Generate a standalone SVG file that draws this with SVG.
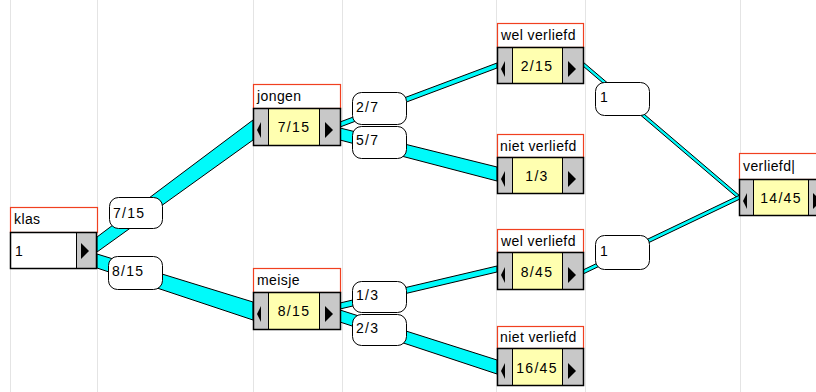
<svg xmlns="http://www.w3.org/2000/svg" width="816" height="392" viewBox="0 0 816 392">
<style>
.grid{stroke:#E4E4E4;stroke-width:1}
.band{fill:#00FAFA;stroke:#000;stroke-width:1;stroke-linejoin:round}
.lbl{fill:#fff;stroke:#000;stroke-width:1}
.ttl{fill:#fff;stroke:#F04020;stroke-width:1.2}
.btn{fill:#C8C8C8;stroke:#000;stroke-width:1}
.val{fill:#FFFFB0;stroke:#000;stroke-width:1}
.wv{fill:#fff;stroke:#000;stroke-width:1}
.row{fill:none;stroke:#000;stroke-width:1.5}
.t{font-family:"Liberation Sans",Arial,sans-serif;font-size:14px;letter-spacing:0.4px;fill:#000}
.l{font-family:"Liberation Sans",Arial,sans-serif;font-size:14px;letter-spacing:1.3px;fill:#000}
.v{font-family:"Liberation Sans",Arial,sans-serif;font-size:14px;letter-spacing:1.3px;fill:#000;text-anchor:middle}
.arr{fill:#000}
</style>
<rect width="816" height="392" fill="#fff"/>
<g id="grid">
<line class="grid" x1="10.5" y1="0" x2="10.5" y2="392"/>
<line class="grid" x1="97.5" y1="0" x2="97.5" y2="392"/>
<line class="grid" x1="253.5" y1="0" x2="253.5" y2="392"/>
<line class="grid" x1="342.5" y1="0" x2="342.5" y2="392"/>
<line class="grid" x1="496.5" y1="0" x2="496.5" y2="392"/>
<line class="grid" x1="585.5" y1="0" x2="585.5" y2="392"/>
<line class="grid" x1="740.5" y1="0" x2="740.5" y2="392"/>
</g>
<g id="connectors">
<polygon class="band" points="97,237 253,120 253,140 97,252"/>
<polygon class="band" points="97,254 253,302 253,320 97,268"/>
<polygon class="band" points="340,122 497,63 497,68 340,127"/>
<polygon class="band" points="340,128 497,167 497,181 340,140"/>
<polygon class="band" points="340,303 497,266 497,272 340,309"/>
<polygon class="band" points="340,310 497,360 497,374 340,322"/>
<polygon class="band" points="583,62 740,196 740,200 583,66"/>
<polygon class="band" points="583,270 740,195 740,199 583,274"/>
<g id="lbl-7-15"><rect class="lbl" x="109.5" y="197.5" width="53" height="31" rx="9"/><text class="l" x="113" y="218">7/15</text></g>
<g id="lbl-8-15"><rect class="lbl" x="108.5" y="256.5" width="54" height="33" rx="9"/><text class="l" x="112" y="276">8/15</text></g>
<g id="lbl-2-7"><rect class="lbl" x="352.5" y="92.5" width="54" height="32" rx="9"/><text class="l" x="356" y="112">2/7</text></g>
<g id="lbl-5-7"><rect class="lbl" x="352.5" y="126.5" width="54" height="32" rx="9"/><text class="l" x="356" y="145">5/7</text></g>
<g id="lbl-1-3"><rect class="lbl" x="352.5" y="281.5" width="54" height="31" rx="9"/><text class="l" x="356" y="300">1/3</text></g>
<g id="lbl-2-3"><rect class="lbl" x="352.5" y="314.5" width="54" height="31" rx="9"/><text class="l" x="356" y="333">2/3</text></g>
<g id="lbl-1a"><rect class="lbl" x="595.5" y="82.5" width="54" height="33" rx="9"/><text class="l" x="600" y="102">1</text></g>
<g id="lbl-1b"><rect class="lbl" x="595.5" y="235.5" width="54" height="34" rx="9"/><text class="l" x="600" y="256">1</text></g>
</g>
<g id="klas">
<rect class="ttl" x="10.5" y="207.5" width="87" height="25"/>
<text class="t" x="14" y="224">klas</text>
<rect class="wv" x="10.5" y="232.5" width="66" height="36"/>
<rect class="btn" x="76.5" y="232.5" width="20" height="36"/>
<polygon class="arr" points="81,243 81,259 89,251"/>
<rect class="row" x="10.5" y="232.5" width="86" height="36"/>
<text class="l" x="15" y="256">1</text>
</g>
<g id="jongen">
<rect class="ttl" x="253.5" y="84.5" width="87" height="24"/>
<text class="t" x="257" y="101">jongen</text>
<rect class="btn" x="253.5" y="108.5" width="15" height="37"/>
<rect class="val" x="268.5" y="108.5" width="51" height="37"/>
<rect class="btn" x="319.5" y="108.5" width="21" height="37"/>
<polygon class="arr" points="257,130 261,122 261,138"/>
<polygon class="arr" points="325,122 325,138 333,130"/>
<rect class="row" x="253.5" y="108.5" width="87" height="37"/>
<text class="v" x="294" y="132">7/15</text>
</g>
<g id="meisje">
<rect class="ttl" x="253.5" y="268.5" width="87" height="24"/>
<text class="t" x="257" y="285">meisje</text>
<rect class="btn" x="253.5" y="292.5" width="15" height="37"/>
<rect class="val" x="268.5" y="292.5" width="51" height="37"/>
<rect class="btn" x="319.5" y="292.5" width="21" height="37"/>
<polygon class="arr" points="257,314 261,306 261,322"/>
<polygon class="arr" points="325,306 325,322 333,314"/>
<rect class="row" x="253.5" y="292.5" width="87" height="37"/>
<text class="v" x="294" y="316">8/15</text>
</g>
<g id="wel-verliefd-1">
<rect class="ttl" x="497.5" y="23.5" width="86" height="24"/>
<text class="t" x="501" y="40">wel verliefd</text>
<rect class="btn" x="497.5" y="47.5" width="15" height="36"/>
<rect class="val" x="512.5" y="47.5" width="50" height="36"/>
<rect class="btn" x="562.5" y="47.5" width="21" height="36"/>
<polygon class="arr" points="501,69 505,61 505,77"/>
<polygon class="arr" points="568,61 568,77 576,69"/>
<rect class="row" x="497.5" y="47.5" width="86" height="36"/>
<text class="v" x="537" y="71">2/15</text>
</g>
<g id="niet-verliefd-1">
<rect class="ttl" x="497.5" y="134.5" width="86" height="23"/>
<text class="t" x="500" y="151">niet verliefd</text>
<rect class="btn" x="497.5" y="157.5" width="15" height="36"/>
<rect class="val" x="512.5" y="157.5" width="50" height="36"/>
<rect class="btn" x="562.5" y="157.5" width="21" height="36"/>
<polygon class="arr" points="501,179 505,171 505,187"/>
<polygon class="arr" points="568,171 568,187 576,179"/>
<rect class="row" x="497.5" y="157.5" width="86" height="36"/>
<text class="v" x="537" y="181">1/3</text>
</g>
<g id="wel-verliefd-2">
<rect class="ttl" x="497.5" y="229.5" width="86" height="23"/>
<text class="t" x="501" y="246">wel verliefd</text>
<rect class="btn" x="497.5" y="252.5" width="15" height="37"/>
<rect class="val" x="512.5" y="252.5" width="50" height="37"/>
<rect class="btn" x="562.5" y="252.5" width="21" height="37"/>
<polygon class="arr" points="501,275 505,267 505,283"/>
<polygon class="arr" points="568,267 568,283 576,275"/>
<rect class="row" x="497.5" y="252.5" width="86" height="37"/>
<text class="v" x="537" y="277">8/45</text>
</g>
<g id="niet-verliefd-2">
<rect class="ttl" x="497.5" y="326.5" width="86" height="22"/>
<text class="t" x="500" y="342">niet verliefd</text>
<rect class="btn" x="497.5" y="348.5" width="15" height="37"/>
<rect class="val" x="512.5" y="348.5" width="50" height="37"/>
<rect class="btn" x="562.5" y="348.5" width="21" height="37"/>
<polygon class="arr" points="501,371 505,363 505,379"/>
<polygon class="arr" points="568,363 568,379 576,371"/>
<rect class="row" x="497.5" y="348.5" width="86" height="37"/>
<text class="v" x="537" y="373">16/45</text>
</g>
<g id="verliefd">
<rect class="ttl" x="739.5" y="153.5" width="90" height="26"/>
<text class="t" x="743" y="171">verliefd|</text>
<rect class="btn" x="739.5" y="179.5" width="14" height="36"/>
<rect class="val" x="753.5" y="179.5" width="55" height="36"/>
<rect class="btn" x="808.5" y="179.5" width="21" height="36"/>
<polygon class="arr" points="743,201 747,193 747,209"/>
<polygon class="arr" points="813,193 813,209 821,201"/>
<rect class="row" x="739.5" y="179.5" width="90" height="36"/>
<text class="v" x="781" y="203">14/45</text>
</g>
</svg>
